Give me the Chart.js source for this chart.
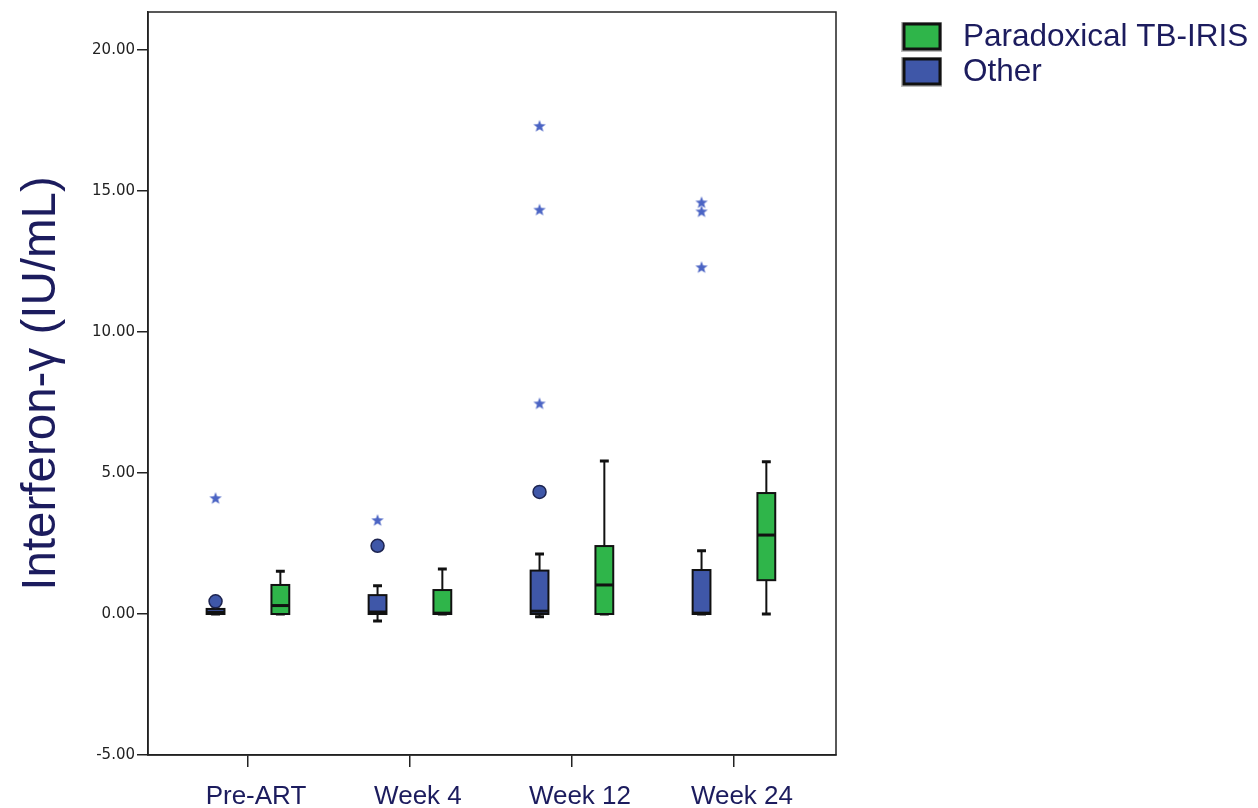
<!DOCTYPE html>
<html>
<head>
<meta charset="utf-8">
<script src="https://cdn.jsdelivr.net/npm/chart.js@4.4.1/dist/chart.umd.min.js"></script>
<style>
    html, body { margin: 0; padding: 0; background: #ffffff; }
</style>
</head>
<body>
<canvas id="ifnChart" width="1258" height="808"></canvas>
<script>
// Categories along the x axis
const categories = ['Pre-ART', 'Week 4', 'Week 12', 'Week 24'];
const yTickValues = [-5, 0, 5, 10, 15, 20];

// "Other" group (blue) - five number summary per category
const otherMin = [0, -0.25, -0.1, 0];
const otherQ1 = [0, 0, 0, 0];
const otherMedian = [0.06, 0.07, 0.1, 0.03];
const otherQ3 = [0.18, 0.67, 1.54, 1.56];
const otherMax = [0.18, 1.0, 2.13, 2.24];
const otherOutliers = [[0.45], [2.42], [4.33], []];
const otherExtremes = [[4.11], [3.33], [7.47, 14.34, 17.31], [12.3, 14.28, 14.6]];

// "Paradoxical TB-IRIS" group (green)
const irisMin = [0, 0, 0, 0];
const irisQ1 = [0, 0, 0, 1.2];
const irisMedian = [0.3, 0.03, 1.03, 2.8];
const irisQ3 = [1.03, 0.85, 2.41, 4.29];
const irisMax = [1.52, 1.6, 5.43, 5.4];

const NAVY = '#1c1c5e';
const GREEN = '#2fb54a';
const BLUE = '#3f57a8';
const STAR_BLUE = '#4b64c4';

const groups = [
    { label: 'Other', color: BLUE, offset: -0.2, min: otherMin, q1: otherQ1, median: otherMedian, q3: otherQ3, max: otherMax },
    { label: 'Paradoxical TB-IRIS', color: GREEN, offset: 0.2, min: irisMin, q1: irisQ1, median: irisMedian, q3: irisQ3, max: irisMax }
];
const boxWidth = 0.11; // in category units

// Small 5-pointed star used by SPSS for extreme values
function makeStar() {
    const c = document.createElement('canvas');
    c.width = 14;
    c.height = 14;
    const g = c.getContext('2d');
    g.fillStyle = STAR_BLUE;
    g.beginPath();
    for (let k = 0; k < 10; k++) {
        const r = k % 2 === 0 ? 6.5 : 2.7;
        const a = -Math.PI / 2 + k * Math.PI / 5;
        const px = 7 + r * Math.cos(a);
        const py = 7.5 + r * Math.sin(a);
        if (k === 0) g.moveTo(px, py); else g.lineTo(px, py);
    }
    g.closePath();
    g.fill();
    return c;
}

// Build scatter points for outliers
function toPoints(lists, offset) {
    const pts = [];
    lists.forEach((vals, i) => {
        vals.forEach(v => pts.push({ x: i + offset, y: v }));
    });
    return pts;
}

// Draws the boxes and whiskers from the summary arrays
const boxPlotPlugin = {
    id: 'boxPlot',
    beforeDatasetsDraw(chart) {
        const { ctx, scales: { x, y } } = chart;
        ctx.save();
        groups.forEach(g => {
            categories.forEach((cat, i) => {
                const cx = x.getPixelForValue(i + g.offset);
                const half = (x.getPixelForValue(boxWidth) - x.getPixelForValue(0)) / 2;
                const yMin = y.getPixelForValue(g.min[i]);
                const yQ1 = y.getPixelForValue(g.q1[i]);
                const yMed = y.getPixelForValue(g.median[i]);
                const yQ3 = y.getPixelForValue(g.q3[i]);
                const yMax = y.getPixelForValue(g.max[i]);

                // whiskers
                ctx.strokeStyle = '#111';
                ctx.lineWidth = 2;
                ctx.beginPath();
                ctx.moveTo(cx, yQ3);
                ctx.lineTo(cx, yMax);
                ctx.moveTo(cx, yQ1);
                ctx.lineTo(cx, yMin);
                ctx.stroke();
                ctx.lineWidth = 3;
                ctx.beginPath();
                ctx.moveTo(cx - half / 2, yMax);
                ctx.lineTo(cx + half / 2, yMax);
                ctx.moveTo(cx - half / 2, yMin);
                ctx.lineTo(cx + half / 2, yMin);
                ctx.stroke();

                // box
                ctx.fillStyle = g.color;
                ctx.fillRect(cx - half, yQ3, half * 2, yQ1 - yQ3);
                ctx.lineWidth = 2;
                ctx.strokeStyle = '#111';
                ctx.strokeRect(cx - half, yQ3, half * 2, yQ1 - yQ3);

                // median
                ctx.lineWidth = 3;
                ctx.beginPath();
                ctx.moveTo(cx - half, yMed);
                ctx.lineTo(cx + half, yMed);
                ctx.stroke();
            });
        });
        ctx.restore();
    },
    afterDraw(chart) {
        const { ctx, chartArea } = chart;
        ctx.save();
        // frame round the plot
        ctx.strokeStyle = '#222';
        ctx.lineWidth = 1.5;
        ctx.strokeRect(chartArea.left, chartArea.top, chartArea.right - chartArea.left, chartArea.bottom - chartArea.top);

        // legend
        const items = [
            { text: 'Paradoxical TB-IRIS', color: GREEN, y: 23 },
            { text: 'Other', color: BLUE, y: 58 }
        ];
        items.forEach(item => {
            ctx.fillStyle = '#bdbdbd';
            ctx.fillRect(901, item.y - 1, 41, 30);
            ctx.fillStyle = item.color;
            ctx.fillRect(904, item.y + 1, 36, 25);
            ctx.strokeStyle = '#111';
            ctx.lineWidth = 3;
            ctx.strokeRect(904, item.y + 1, 36, 25);
            ctx.fillStyle = NAVY;
            ctx.font = '31.5px "Liberation Sans", Arial, sans-serif';
            ctx.textBaseline = 'middle';
            ctx.textAlign = 'left';
            ctx.fillText(item.text, 963, item.y + 14);
        });
        ctx.restore();
    }
};

const ctx = document.getElementById('ifnChart').getContext('2d');

new Chart(ctx, {
    type: 'scatter',
    data: {
        datasets: [
            {
                label: 'Other extremes',
                data: toPoints(otherExtremes, -0.2),
                pointStyle: makeStar(),
                pointRadius: 7
            },
            {
                label: 'Other outliers',
                data: toPoints(otherOutliers, -0.2),
                pointStyle: 'circle',
                pointRadius: 6.5,
                backgroundColor: BLUE,
                borderColor: '#1d2450',
                borderWidth: 1.5
            }
        ]
    },
    options: {
        responsive: false,
        animation: false,
        layout: {
            padding: { left: 0, right: 422, top: 12, bottom: 0 }
        },
        scales: {
            x: {
                type: 'linear',
                min: -0.617,
                max: 3.63,
                afterBuildTicks: function (scale) {
                    scale.ticks = categories.map((c, i) => ({ value: i }));
                },
                afterFit: function (scale) {
                    scale.height = 53;
                },
                grid: {
                    display: true,
                    drawOnChartArea: false,
                    drawTicks: true,
                    tickLength: 12,
                    color: '#222',
                    lineWidth: 1.5
                },
                border: { display: true, color: '#222', width: 1.5 },
                ticks: {
                    autoSkip: false,
                    maxRotation: 0,
                    padding: 14,
                    labelOffset: 8,
                    color: NAVY,
                    font: { family: '"Liberation Sans", Arial, sans-serif', size: 26 },
                    callback: function (value) {
                        return categories[value];
                    }
                }
            },
            y: {
                min: -5,
                max: 21.35,
                afterBuildTicks: function (scale) {
                    scale.ticks = yTickValues.map(v => ({ value: v }));
                },
                afterFit: function (scale) {
                    scale.width = 148;
                },
                grid: {
                    display: true,
                    drawOnChartArea: false,
                    drawTicks: true,
                    tickLength: 11,
                    color: '#222',
                    lineWidth: 1.5
                },
                border: { display: true, color: '#222', width: 1.5 },
                ticks: {
                    padding: 2,
                    color: '#222',
                    font: { family: '"DejaVu Sans", sans-serif', size: 15 },
                    callback: function (value) {
                        return value.toFixed(2);
                    }
                },
                title: {
                    display: true,
                    text: 'Interferon-γ (IU/mL)',
                    color: NAVY,
                    padding: { top: 13, bottom: 0 },
                    font: { family: '"Liberation Sans", Arial, sans-serif', size: 47.5, lineHeight: 1.2 }
                }
            }
        },
        plugins: {
            legend: { display: false },
            tooltip: { enabled: false }
        }
    },
    plugins: [boxPlotPlugin]
});
</script>
</body>
</html>
